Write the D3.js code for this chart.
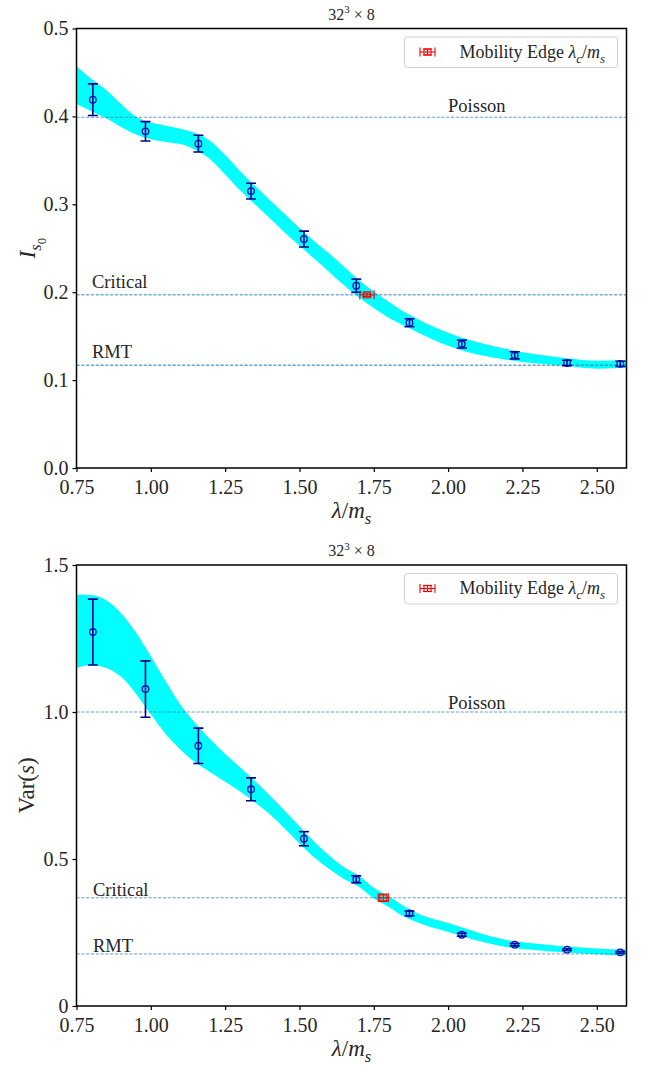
<!DOCTYPE html>
<html><head><meta charset="utf-8">
<script src="https://cdn.jsdelivr.net/npm/d3@7"></script>
<style>
body{margin:0;background:#fff}
svg{display:block}
text{font-family:"Liberation Serif","DejaVu Serif",serif;fill:#262626}
</style>
</head><body>
<svg id="c" width="654" height="1066"></svg>
<script>
// ---------- data ----------
const xTicks = [0.75, 1.00, 1.25, 1.50, 1.75, 2.00, 2.25, 2.50];
const lambdaVals = [0.805, 0.982, 1.160, 1.337, 1.515, 1.691, 1.870, 2.046, 2.224, 2.400, 2.579];

const isoVals = [0.419, 0.383, 0.369, 0.315, 0.2605, 0.2074, 0.1653, 0.141, 0.1282, 0.1195, 0.1185];
const isoErr  = [0.018, 0.011, 0.0095, 0.009, 0.009, 0.0075, 0.0045, 0.0045, 0.004, 0.003, 0.003];
const isoTicks = [0, 0.1, 0.2, 0.3, 0.4, 0.5];
const isoRef = [0.399, 0.197, 0.117]; // Poisson, Critical, RMT
const isoEdge = {x: 1.727, xerr: 0.024, y: 0.197, yerr: 0.002};

const varVals = [1.272, 1.078, 0.885, 0.737, 0.569, 0.431, 0.315, 0.2426, 0.2086, 0.1916, 0.1825];
const varErr  = [0.112, 0.096, 0.060, 0.039, 0.024, 0.012, 0.008, 0.005, 0.004, 0.003, 0.003];
const varTicks = [0, 0.5, 1.0, 1.5];
const varTickLabels = ["0", "0.5", "1.0", "1.5"];
const varRef = [1.0, 0.368, 0.177];
const varEdge = {x: 1.782, xerr: 0.017, y: 0.368, yerr: 0.0125};

const refNames = ["Poisson", "Critical", "RMT"];

// fitted band
const bandX = [0.75,0.80,0.85,0.90,0.95,1.00,1.05,1.10,1.15,1.20,1.25,1.30,1.35,1.40,1.45,1.50,1.55,1.60,1.65,1.70,1.75,1.80,1.85,1.90,2.00,2.10,2.20,2.30,2.40,2.50,2.60];
const isoLo = [0.414,0.406,0.398,0.388,0.3795,0.374,0.371,0.3685,0.362,0.351,0.334,0.316,0.300,0.284,0.268,0.253,0.238,0.223,0.208,0.194,0.182,0.171,0.162,0.154,0.139,0.129,0.123,0.119,0.116,0.113,0.114];
const isoHi = [0.457,0.4425,0.430,0.414,0.3995,0.393,0.3895,0.386,0.381,0.372,0.356,0.338,0.321,0.305,0.289,0.273,0.258,0.244,0.229,0.214,0.201,0.189,0.178,0.169,0.154,0.143,0.135,0.129,0.125,0.122,0.123];
const varLo = [1.150,1.160,1.150,1.120,1.062,0.992,0.925,0.872,0.828,0.795,0.763,0.730,0.693,0.652,0.604,0.553,0.505,0.466,0.432,0.406,0.366,0.338,0.305,0.283,0.252,0.222,0.200,0.190,0.182,0.176,0.172];
const varHi = [1.400,1.398,1.380,1.336,1.270,1.190,1.105,1.025,0.962,0.907,0.857,0.812,0.765,0.716,0.664,0.611,0.558,0.512,0.472,0.443,0.402,0.374,0.340,0.314,0.282,0.250,0.224,0.212,0.202,0.196,0.192];

// ---------- drawing ----------
const svg = d3.select("#c");
const X0 = 76.5, X1 = 626.5;
const x = d3.scaleLinear().domain([0.75, 2.6]).range([X0, X1]);

function mathLabel(sel, parts, size){
  // parts: [text, italic, level] level 0 normal, 1 sub, 2 subsub, -1 sup
  let cur = 0;
  const shift = {0:0, 1:0.28, 2:0.48, "-1":-0.38};
  const scale = {0:1, 1:0.72, 2:0.55, "-1":0.68};
  parts.forEach(p => {
    const lvl = p[2] || 0;
    const target = shift[lvl] * size;
    sel.append("tspan").text(p[0])
      .attr("font-size", size * scale[lvl])
      .attr("font-style", p[1] ? "italic" : "normal")
      .attr("dy", target - cur);
    cur = target;
  });
}

function drawEdge(sel, cx, cy, xl, xr, yt, yb){
  const c = "#ff0000";
  sel.append("line").attr("x1", xl).attr("x2", xr).attr("y1", cy).attr("y2", cy).attr("stroke", c).attr("stroke-width", 1.1);
  [xl, xr].forEach(xx => sel.append("line").attr("x1", xx).attr("x2", xx).attr("y1", cy - 4.5).attr("y2", cy + 4.5)
    .attr("stroke", c).attr("stroke-width", 1.1));
  if (Math.abs(yb - yt) > 1.5) {
    sel.append("line").attr("x1", cx).attr("x2", cx).attr("y1", yt).attr("y2", yb).attr("stroke", c).attr("stroke-width", 1.1);
    [yt, yb].forEach(yy => sel.append("line").attr("x1", cx - 4.5).attr("x2", cx + 4.5).attr("y1", yy).attr("y2", yy)
      .attr("stroke", c).attr("stroke-width", 1.1));
  }
  sel.append("rect").attr("x", cx - 3.5).attr("y", cy - 3).attr("width", 7).attr("height", 6)
    .attr("fill", "none").attr("stroke", c).attr("stroke-width", 1.1);
}

function panel(o){
  const y = d3.scaleLinear().domain(o.yDomain).range([o.bottom, o.top]);
  const g = svg.append("g");
  const clipId = "clip" + o.id;
  g.append("clipPath").attr("id", clipId).append("rect")
    .attr("x", X0).attr("y", o.top).attr("width", X1 - X0).attr("height", o.bottom - o.top);
  const inner = g.append("g").attr("clip-path", `url(#${clipId})`);

  // band
  const bd = bandX.map((v, i) => [v, o.lo[i], o.hi[i]]);
  inner.append("path").datum(bd)
    .attr("d", d3.area().x(d => x(d[0])).y0(d => y(d[1])).y1(d => y(d[2])).curve(d3.curveMonotoneX))
    .attr("fill", "#00ffff");

  // reference lines
  o.ref.forEach((r, i) => {
    inner.append("line").attr("x1", X0).attr("x2", X1).attr("y1", y(r)).attr("y2", y(r))
      .attr("stroke", "#1f77b4").attr("stroke-width", 1)
      .attr("stroke-opacity", o.refOpacity[i])
      .attr("stroke-dasharray", "3.2,1.6");
  });
  o.ref.forEach((r, i) => {
    g.append("text").attr("x", o.refLabelX[i]).attr("y", y(r) - o.refLabelOff[i])
      .attr("font-size", 18.5).text(refNames[i]);
  });

  // error bars
  const eb = inner.append("g");
  lambdaVals.forEach((lv, i) => {
    const cx = x(lv), v = o.vals[i], e = o.err[i];
    const yt = y(v + e), yb = y(v - e);
    eb.append("line").attr("x1", cx).attr("x2", cx).attr("y1", yt).attr("y2", yb)
      .attr("stroke", "#00008b").attr("stroke-width", 1.6);
    [yt, yb].forEach(yy => eb.append("line").attr("x1", cx - 5).attr("x2", cx + 5)
      .attr("y1", yy).attr("y2", yy).attr("stroke", "#00008b").attr("stroke-width", 1.6));
    eb.append("circle").attr("cx", cx).attr("cy", y(v)).attr("r", 3.3)
      .attr("fill", "none").attr("stroke", "#0a0ac0").attr("stroke-width", 1.3);
  });

  // mobility edge
  const me = o.edge;
  drawEdge(inner, x(me.x), y(me.y), x(me.x - me.xerr), x(me.x + me.xerr), y(me.y + me.yerr), y(me.y - me.yerr));

  // spines
  g.append("rect").attr("x", X0).attr("y", o.top).attr("width", X1 - X0).attr("height", o.bottom - o.top)
    .attr("fill", "none").attr("stroke", "#000").attr("stroke-width", 1.5);

  // axes
  const ax = g.append("g").attr("transform", `translate(0,${o.bottom})`)
    .call(d3.axisBottom(x).tickValues(xTicks).tickFormat(d3.format(".2f")).tickSizeOuter(0).tickSize(4).tickPadding(7.5));
  const ay = g.append("g").attr("transform", `translate(${X0},0)`)
    .call(d3.axisLeft(y).tickValues(o.ticks).tickFormat((d, i) => o.tickLabels[i]).tickSizeOuter(0).tickSize(4).tickPadding(4));
  [ax, ay].forEach(a => {
    a.attr("font-family", null);
    a.select(".domain").remove();
    a.selectAll(".tick line").attr("stroke", "#000").attr("stroke-width", 1.2);
    a.selectAll(".tick text").attr("font-size", 20).attr("fill", "#262626");
  });

  // title
  const t = g.append("text").attr("x", (X0 + X1) / 2).attr("y", o.top - 9).attr("text-anchor", "middle");
  mathLabel(t, [["32", false, 0], ["3", false, -1], [" × 8", false, 0]], 16);

  // x label
  const xl = g.append("text").attr("x", (X0 + X1) / 2).attr("y", o.bottom + 50).attr("text-anchor", "middle");
  mathLabel(xl, [["λ", true, 0], ["/", false, 0], ["m", true, 0], ["s", true, 1]], 23);

  // y label
  const yl = g.append("text").attr("transform", `translate(${o.yLabelX},${(o.top + o.bottom) / 2}) rotate(-90)`)
    .attr("text-anchor", "middle");
  mathLabel(yl, o.yLabel, 23);

  // legend
  const lg = g.append("g").attr("transform", `translate(404.5,${o.top + 8.5})`);
  lg.append("rect").attr("width", 213).attr("height", 30.5).attr("rx", 3)
    .attr("fill", "#fff").attr("fill-opacity", 0.8).attr("stroke", "#d0d0d0").attr("stroke-width", 1);
  drawEdge(lg, 23, 15, 15.5, 30.5, 12, 18);
  const lt = lg.append("text").attr("x", 55).attr("y", 20.5);
  mathLabel(lt, [["Mobility Edge ", false, 0], ["λ", true, 0], ["c", true, 1], ["/", false, 0], ["m", true, 0], ["s", true, 1]], 18);
}

panel({
  id: "a", top: 28.5, bottom: 468, yDomain: [0, 0.5],
  lo: isoLo, hi: isoHi, vals: isoVals, err: isoErr, ref: isoRef,
  refOpacity: [0.7, 0.9, 1], refLabelX: [448, 92, 92], refLabelOff: [5.5, 6.5, 7],
  ticks: isoTicks, tickLabels: isoTicks.map(d3.format(".1f")),
  edge: isoEdge, yLabelX: 35,
  yLabel: [["I", true, 0], ["s", true, 1], ["0", false, 2]]
});
panel({
  id: "b", top: 565, bottom: 1006, yDomain: [0, 1.5],
  lo: varLo, hi: varHi, vals: varVals, err: varErr, ref: varRef,
  refOpacity: [0.7, 0.7, 0.7], refLabelX: [448, 93, 93], refLabelOff: [3, 2, 2],
  ticks: varTicks, tickLabels: varTickLabels,
  edge: varEdge, yLabelX: 34,
  yLabel: [["Var(", false, 0], ["s", true, 0], [")", false, 0]]
});
</script>
</body></html>
